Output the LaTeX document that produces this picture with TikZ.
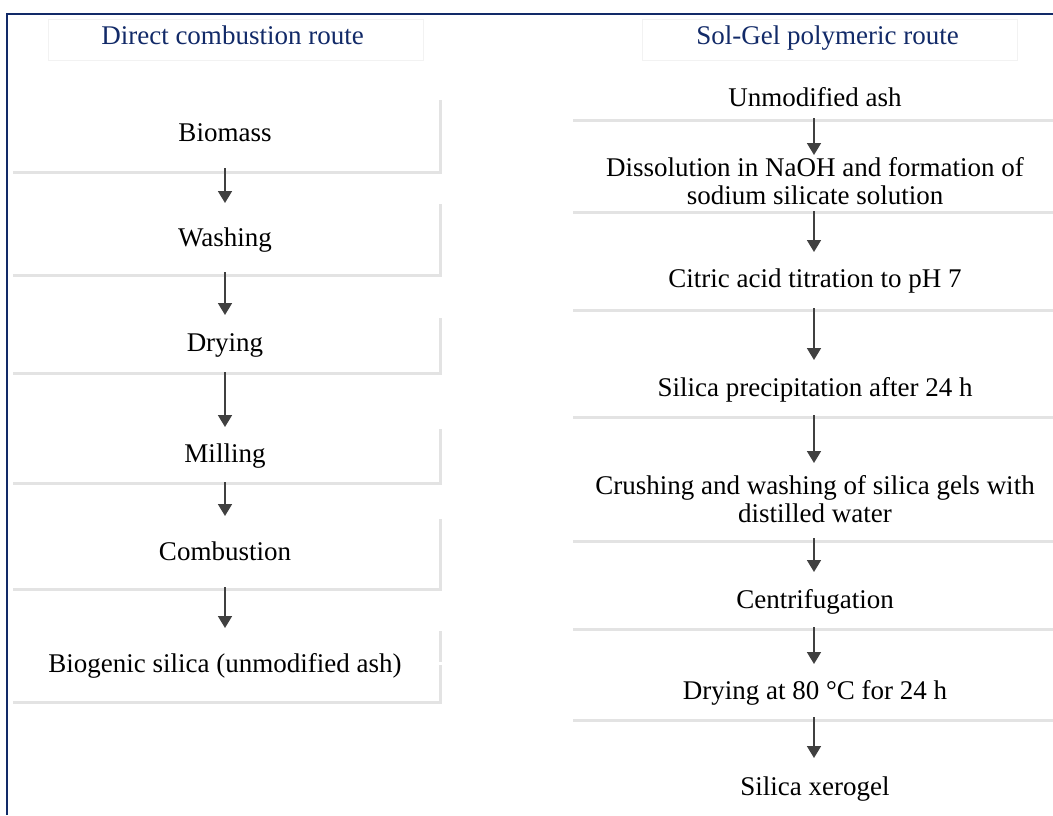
\documentclass[tikz,border=0pt]{standalone}
\usepackage{fontspec}
\setmainfont{Liberation Serif}
\usetikzlibrary{arrows.meta}
\definecolor{navy}{RGB}{18,42,104}
\definecolor{rulegrey}{RGB}{227,227,227}
\definecolor{faintgrey}{RGB}{242,242,242}
\definecolor{arrowgrey}{RGB}{64,64,64}
\begin{document}
\begin{tikzpicture}[x=1pt,y=-1pt,
  txt/.style={font=\fontsize{27}{28}\selectfont, align=center, inner sep=0pt},
  ttl/.style={txt, text=navy},
  ruleline/.style={draw=rulegrey, line width=3pt},
  flow/.style={draw=arrowgrey, line width=1.8pt, -{Triangle[width=14pt,length=12pt]}},
  framebox/.style={draw=navy, line width=2pt},
  titlebox/.style={draw=faintgrey, line width=1pt}]
\useasboundingbox (0,0) rectangle (1053,815);
\fill[white] (0,0) rectangle (1053,815);

% outer frame (open at right and bottom)
\draw[framebox] (7,815) -- (7,14) -- (1053,14);

% title boxes
\draw[titlebox] (48,19) rectangle (423,60);
\draw[titlebox] (642,19) rectangle (1017,60);
\node[ttl] (tl) at (232.5,38.4) {\strut Direct combustion route};
\node[ttl] (tr) at (827.5,38.4) {\strut Sol-Gel polymeric route};

% ---------- left column boxes ----------
\draw[ruleline] (440.5,100) -- (440.5,172) (13,172) -- (442,172);
\draw[ruleline] (440.5,204) -- (440.5,275) (13,275) -- (442,275);
\draw[ruleline] (440.5,318) -- (440.5,373) (13,373) -- (442,373);
\draw[ruleline] (440.5,429) -- (440.5,483) (13,483) -- (442,483);
\draw[ruleline] (440.5,519) -- (440.5,589) (13,589) -- (442,589);
\draw[ruleline] (440.5,631) -- (440.5,662) (440.5,665) -- (440.5,702) (13,702) -- (442,702);

\node[txt] (l1) at (225,136.1) {\strut Biomass};
\node[txt] (l2) at (225,240.4) {\strut Washing};
\node[txt] (l3) at (225,346.1) {\strut Drying};
\node[txt] (l4) at (225,457.1) {\strut Milling};
\node[txt] (l5) at (225,554.4) {\strut Combustion};
\node[txt] (l6) at (225,667.1) {\strut Biogenic silica (unmodified ash)};

\coordinate (la1) at (225,168); \coordinate (lb1) at (225,203);
\coordinate (la2) at (225,272); \coordinate (lb2) at (225,315);
\coordinate (la3) at (225,372); \coordinate (lb3) at (225,427);
\coordinate (la4) at (225,482); \coordinate (lb4) at (225,516);
\coordinate (la5) at (225,587); \coordinate (lb5) at (225,628);
\foreach \i in {1,...,5} {\draw[flow] (la\i) -- (lb\i);}

% ---------- right column ----------
\foreach \yy in {120,212,310,417,541,629,720} {\draw[ruleline] (573,\yy) -- (1053,\yy);}

\node[txt] (r1) at (815,100.4) {\strut Unmodified ash};
\node[txt] (r2) at (815,184.4) {\strut Dissolution in NaOH and formation of\\\strut sodium silicate solution};
\node[txt] (r3) at (815,281.7) {\strut Citric acid titration to pH 7};
\node[txt] (r4) at (815,391.1) {\strut Silica precipitation after 24 h};
\node[txt] (r5) at (815,503.3) {\strut Crushing and washing of silica gels with\\\strut distilled water};
\node[txt] (r6) at (815,602.7) {\strut Centrifugation};
\node[txt] (r7) at (815,693.4) {\strut Drying at 80 °C for 24 h};
\node[txt] (r8) at (815,789.4) {\strut Silica xerogel};

\coordinate (ra1) at (814,118); \coordinate (rb1) at (814,155);
\coordinate (ra2) at (814,211); \coordinate (rb2) at (814,252);
\coordinate (ra3) at (814,308); \coordinate (rb3) at (814,360);
\coordinate (ra4) at (814,415); \coordinate (rb4) at (814,463);
\coordinate (ra5) at (814,538); \coordinate (rb5) at (814,572);
\coordinate (ra6) at (814,627); \coordinate (rb6) at (814,664);
\coordinate (ra7) at (814,717); \coordinate (rb7) at (814,758);
\foreach \i in {1,...,7} {\draw[flow] (ra\i) -- (rb\i);}
\end{tikzpicture}
\end{document}
